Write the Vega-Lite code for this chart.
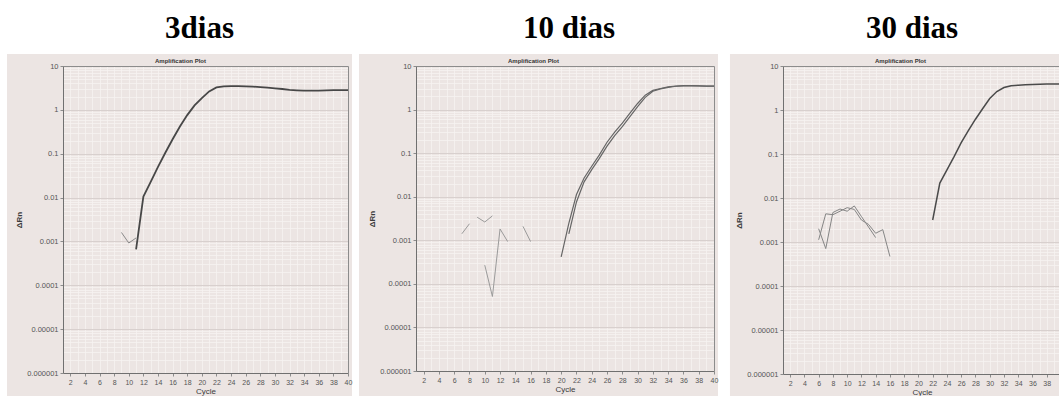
{
  "$schema": "https://vega.github.io/schema/vega-lite/v6.json",
  "background": "#ffffff",
  "padding": {"left": 7, "top": 12, "right": 0, "bottom": 0},
  "config": {
    "view": {"stroke": null, "fill": "#ece5e3"},
    "axis": {"labelFont": "Liberation Sans", "titleFont": "Liberation Sans"},
    "title": {"font": "Liberation Serif", "fontSize": 31, "fontWeight": "bold", "color": "#000000", "anchor": "middle", "frame": "group", "baseline": "alphabetic", "offset": 9}
  },
  "datasets": {
    "d3": [
      {"series": "B", "kind": "bg", "cycle": 9, "rn": 0.0016},
      {"series": "B", "kind": "bg", "cycle": 10, "rn": 0.00092},
      {"series": "B", "kind": "bg", "cycle": 11, "rn": 0.0012},
      {"series": "A", "kind": "amp", "cycle": 11, "rn": 0.00066},
      {"series": "A", "kind": "amp", "cycle": 12, "rn": 0.0105},
      {"series": "A", "kind": "amp", "cycle": 13, "rn": 0.0229},
      {"series": "A", "kind": "amp", "cycle": 14, "rn": 0.0501},
      {"series": "A", "kind": "amp", "cycle": 15, "rn": 0.105},
      {"series": "A", "kind": "amp", "cycle": 16, "rn": 0.214},
      {"series": "A", "kind": "amp", "cycle": 17, "rn": 0.417},
      {"series": "A", "kind": "amp", "cycle": 18, "rn": 0.759},
      {"series": "A", "kind": "amp", "cycle": 19, "rn": 1.26},
      {"series": "A", "kind": "amp", "cycle": 20, "rn": 1.86},
      {"series": "A", "kind": "amp", "cycle": 21, "rn": 2.63},
      {"series": "A", "kind": "amp", "cycle": 22, "rn": 3.24},
      {"series": "A", "kind": "amp", "cycle": 23, "rn": 3.43},
      {"series": "A", "kind": "amp", "cycle": 24, "rn": 3.47},
      {"series": "A", "kind": "amp", "cycle": 25, "rn": 3.47},
      {"series": "A", "kind": "amp", "cycle": 26, "rn": 3.43},
      {"series": "A", "kind": "amp", "cycle": 27, "rn": 3.39},
      {"series": "A", "kind": "amp", "cycle": 28, "rn": 3.31},
      {"series": "A", "kind": "amp", "cycle": 29, "rn": 3.2},
      {"series": "A", "kind": "amp", "cycle": 30, "rn": 3.09},
      {"series": "A", "kind": "amp", "cycle": 31, "rn": 2.99},
      {"series": "A", "kind": "amp", "cycle": 32, "rn": 2.85},
      {"series": "A", "kind": "amp", "cycle": 33, "rn": 2.79},
      {"series": "A", "kind": "amp", "cycle": 34, "rn": 2.75},
      {"series": "A", "kind": "amp", "cycle": 35, "rn": 2.75},
      {"series": "A", "kind": "amp", "cycle": 36, "rn": 2.75},
      {"series": "A", "kind": "amp", "cycle": 37, "rn": 2.79},
      {"series": "A", "kind": "amp", "cycle": 38, "rn": 2.82},
      {"series": "A", "kind": "amp", "cycle": 39, "rn": 2.82},
      {"series": "A", "kind": "amp", "cycle": 40, "rn": 2.82}
    ],
    "d10": [
      {"series": "N1", "kind": "bg", "cycle": 7, "rn": 0.00141},
      {"series": "N1", "kind": "bg", "cycle": 8, "rn": 0.0024},
      {"series": "N2", "kind": "bg", "cycle": 9, "rn": 0.00339},
      {"series": "N2", "kind": "bg", "cycle": 10, "rn": 0.00263},
      {"series": "N2", "kind": "bg", "cycle": 11, "rn": 0.00363},
      {"series": "N3", "kind": "bg", "cycle": 10, "rn": 0.000269},
      {"series": "N3", "kind": "bg", "cycle": 11, "rn": 0.0000513},
      {"series": "N3", "kind": "bg", "cycle": 12, "rn": 0.00182},
      {"series": "N3", "kind": "bg", "cycle": 13, "rn": 0.000933},
      {"series": "N4", "kind": "bg", "cycle": 15, "rn": 0.00209},
      {"series": "N4", "kind": "bg", "cycle": 16, "rn": 0.000933},
      {"series": "A", "kind": "amp", "cycle": 20, "rn": 0.000417},
      {"series": "A", "kind": "amp", "cycle": 21, "rn": 0.00245},
      {"series": "A", "kind": "amp", "cycle": 22, "rn": 0.0112},
      {"series": "A", "kind": "amp", "cycle": 23, "rn": 0.0269},
      {"series": "A", "kind": "amp", "cycle": 24, "rn": 0.0501},
      {"series": "A", "kind": "amp", "cycle": 25, "rn": 0.0912},
      {"series": "A", "kind": "amp", "cycle": 26, "rn": 0.178},
      {"series": "A", "kind": "amp", "cycle": 27, "rn": 0.302},
      {"series": "A", "kind": "amp", "cycle": 28, "rn": 0.49},
      {"series": "A", "kind": "amp", "cycle": 29, "rn": 0.832},
      {"series": "A", "kind": "amp", "cycle": 30, "rn": 1.38},
      {"series": "A", "kind": "amp", "cycle": 31, "rn": 2.14},
      {"series": "A", "kind": "amp", "cycle": 32, "rn": 2.75},
      {"series": "A", "kind": "amp", "cycle": 33, "rn": 3.05},
      {"series": "A", "kind": "amp", "cycle": 34, "rn": 3.31},
      {"series": "A", "kind": "amp", "cycle": 35, "rn": 3.47},
      {"series": "A", "kind": "amp", "cycle": 36, "rn": 3.55},
      {"series": "A", "kind": "amp", "cycle": 37, "rn": 3.55},
      {"series": "A", "kind": "amp", "cycle": 38, "rn": 3.51},
      {"series": "A", "kind": "amp", "cycle": 39, "rn": 3.47},
      {"series": "A", "kind": "amp", "cycle": 40, "rn": 3.47},
      {"series": "B", "kind": "amp", "cycle": 21, "rn": 0.00141},
      {"series": "B", "kind": "amp", "cycle": 22, "rn": 0.00759},
      {"series": "B", "kind": "amp", "cycle": 23, "rn": 0.0219},
      {"series": "B", "kind": "amp", "cycle": 24, "rn": 0.0417},
      {"series": "B", "kind": "amp", "cycle": 25, "rn": 0.0759},
      {"series": "B", "kind": "amp", "cycle": 26, "rn": 0.145},
      {"series": "B", "kind": "amp", "cycle": 27, "rn": 0.251},
      {"series": "B", "kind": "amp", "cycle": 28, "rn": 0.407},
      {"series": "B", "kind": "amp", "cycle": 29, "rn": 0.692},
      {"series": "B", "kind": "amp", "cycle": 30, "rn": 1.17},
      {"series": "B", "kind": "amp", "cycle": 31, "rn": 1.91},
      {"series": "B", "kind": "amp", "cycle": 32, "rn": 2.63},
      {"series": "B", "kind": "amp", "cycle": 33, "rn": 2.99},
      {"series": "B", "kind": "amp", "cycle": 34, "rn": 3.24},
      {"series": "B", "kind": "amp", "cycle": 35, "rn": 3.43},
      {"series": "B", "kind": "amp", "cycle": 36, "rn": 3.51},
      {"series": "B", "kind": "amp", "cycle": 37, "rn": 3.55},
      {"series": "B", "kind": "amp", "cycle": 38, "rn": 3.51},
      {"series": "B", "kind": "amp", "cycle": 39, "rn": 3.47},
      {"series": "B", "kind": "amp", "cycle": 40, "rn": 3.47}
    ],
    "d30": [
      {"series": "S1", "kind": "bg", "cycle": 6, "rn": 0.00112},
      {"series": "S1", "kind": "bg", "cycle": 7, "rn": 0.00437},
      {"series": "S1", "kind": "bg", "cycle": 8, "rn": 0.00417},
      {"series": "S1", "kind": "bg", "cycle": 9, "rn": 0.00501},
      {"series": "S1", "kind": "bg", "cycle": 10, "rn": 0.00603},
      {"series": "S1", "kind": "bg", "cycle": 11, "rn": 0.0055},
      {"series": "S1", "kind": "bg", "cycle": 12, "rn": 0.00316},
      {"series": "S1", "kind": "bg", "cycle": 13, "rn": 0.00251},
      {"series": "S1", "kind": "bg", "cycle": 14, "rn": 0.00158},
      {"series": "S1", "kind": "bg", "cycle": 15, "rn": 0.00191},
      {"series": "S1", "kind": "bg", "cycle": 16, "rn": 0.000468},
      {"series": "S2", "kind": "bg", "cycle": 6, "rn": 0.002},
      {"series": "S2", "kind": "bg", "cycle": 7, "rn": 0.000708},
      {"series": "S2", "kind": "bg", "cycle": 8, "rn": 0.00468},
      {"series": "S2", "kind": "bg", "cycle": 9, "rn": 0.00562},
      {"series": "S2", "kind": "bg", "cycle": 10, "rn": 0.00501},
      {"series": "S2", "kind": "bg", "cycle": 11, "rn": 0.00661},
      {"series": "S2", "kind": "bg", "cycle": 12, "rn": 0.0038},
      {"series": "S2", "kind": "bg", "cycle": 13, "rn": 0.00219},
      {"series": "S2", "kind": "bg", "cycle": 14, "rn": 0.00126},
      {"series": "A", "kind": "amp", "cycle": 22, "rn": 0.00316},
      {"series": "A", "kind": "amp", "cycle": 23, "rn": 0.0219},
      {"series": "A", "kind": "amp", "cycle": 24, "rn": 0.0437},
      {"series": "A", "kind": "amp", "cycle": 25, "rn": 0.0871},
      {"series": "A", "kind": "amp", "cycle": 26, "rn": 0.182},
      {"series": "A", "kind": "amp", "cycle": 27, "rn": 0.339},
      {"series": "A", "kind": "amp", "cycle": 28, "rn": 0.617},
      {"series": "A", "kind": "amp", "cycle": 29, "rn": 1.07},
      {"series": "A", "kind": "amp", "cycle": 30, "rn": 1.82},
      {"series": "A", "kind": "amp", "cycle": 31, "rn": 2.63},
      {"series": "A", "kind": "amp", "cycle": 32, "rn": 3.24},
      {"series": "A", "kind": "amp", "cycle": 33, "rn": 3.55},
      {"series": "A", "kind": "amp", "cycle": 34, "rn": 3.67},
      {"series": "A", "kind": "amp", "cycle": 35, "rn": 3.76},
      {"series": "A", "kind": "amp", "cycle": 36, "rn": 3.8},
      {"series": "A", "kind": "amp", "cycle": 37, "rn": 3.85},
      {"series": "A", "kind": "amp", "cycle": 38, "rn": 3.89},
      {"series": "A", "kind": "amp", "cycle": 39, "rn": 3.89},
      {"series": "A", "kind": "amp", "cycle": 40, "rn": 3.89}
    ]
  },
  "spacing": 11,
  "hconcat": [
    {
      "spacing": 5,
      "hconcat": [
        {
          "title": {"text": "3dias", "dx": -6},
          "width": 285,
          "height": 307,
          "resolve": {"axis": {"x": "independent", "y": "independent"}},
          "layer": [
            {
              "data": {"values": [{}]},
              "mark": {"type": "rect", "color": "#ece5e3"},
              "encoding": {
                "x": {"datum": -6.66, "type": "quantitative", "scale": {"domain": [1, 40], "nice": false, "zero": false},
                  "axis": {"orient": "top", "grid": false, "labels": false, "ticks": false, "domain": true, "domainColor": "#8c8c8c", "title": "Amplification Plot", "titleFontSize": 6, "titleFontWeight": "bold", "titleColor": "#333333", "titleX": 117, "titlePadding": 3, "zindex": 1}},
                "x2": {"datum": 40.55},
                "y": {"datum": 18.77, "type": "quantitative", "scale": {"type": "log", "domain": [0.000001, 10], "nice": false},
                  "axis": {"orient": "right", "grid": false, "labels": false, "ticks": false, "domain": true, "domainColor": "#8c8c8c", "title": null, "zindex": 1}},
                "y2": {"datum": 10}
              }
            },
            {
              "data": {"values": [{}]},
              "mark": {"type": "rect", "color": "#ece5e3"},
              "encoding": {
                "x": {"datum": -6.66, "type": "quantitative", "scale": {"domain": [1, 40], "nice": false, "zero": false}, "axis": null},
                "x2": {"datum": 1},
                "y": {"datum": 10, "type": "quantitative", "scale": {"type": "log", "domain": [0.000001, 10], "nice": false},
                  "axis": {"orient": "left", "values": [0.000001, 0.00001, 0.0001, 0.001, 0.01, 0.1, 1, 10], "grid": true, "gridColor": "#d8d0ce", "gridWidth": 1, "labels": false, "ticks": false, "domain": false, "title": null, "zindex": 0}},
                "y2": {"datum": 2.99e-7}
              }
            },
            {
              "data": {"values": [{}]},
              "mark": {"type": "rect", "color": "#ece5e3"},
              "encoding": {
                "x": {"datum": 40, "type": "quantitative", "scale": {"domain": [1, 40], "nice": false, "zero": false},
                  "axis": {"orient": "top", "values": [1,2,3,4,5,6,7,8,9,10,11,12,13,14,15,16,17,18,19,20,21,22,23,24,25,26,27,28,29,30,31,32,33,34,35,36,37,38,39,40], "grid": true, "gridColor": "#f6f2f1", "gridWidth": 0.8, "labels": false, "ticks": false, "domain": false, "title": null, "zindex": 0}},
                "x2": {"datum": 40.55},
                "y": {"datum": 10, "type": "quantitative", "scale": {"type": "log", "domain": [0.000001, 10], "nice": false},
                  "axis": {"orient": "right", "values": [2e-6,3e-6,4e-6,5e-6,6e-6,7e-6,8e-6,9e-6,2e-5,3e-5,4e-5,5e-5,6e-5,7e-5,8e-5,9e-5,2e-4,3e-4,4e-4,5e-4,6e-4,7e-4,8e-4,9e-4,0.002,0.003,0.004,0.005,0.006,0.007,0.008,0.009,0.02,0.03,0.04,0.05,0.06,0.07,0.08,0.09,0.2,0.3,0.4,0.5,0.6,0.7,0.8,0.9,2,3,4,5,6,7,8,9], "grid": true, "gridColor": "#f6f2f1", "gridWidth": 0.8, "labels": false, "ticks": false, "domain": false, "title": null, "zindex": 0}},
                "y2": {"datum": 2.99e-7}
              }
            },
            {
              "data": {"values": [{}]},
              "mark": {"type": "rect", "color": "#ece5e3"},
              "encoding": {
                "x": {"datum": 1, "type": "quantitative", "scale": {"domain": [1, 40], "nice": false, "zero": false}, "axis": null},
                "x2": {"datum": 40},
                "y": {"datum": 0.000001, "type": "quantitative", "scale": {"type": "log", "domain": [0.000001, 10], "nice": false}, "axis": null},
                "y2": {"datum": 2.99e-7}
              }
            },
            {
              "data": {"name": "d3"},
              "transform": [{"filter": "datum.kind === 'bg'"}],
              "mark": {"type": "line", "color": "#8a8a8a", "strokeWidth": 1},
              "encoding": {
                "x": {"field": "cycle", "type": "quantitative", "scale": {"domain": [1, 40], "nice": false, "zero": false}, "axis": null},
                "y": {"field": "rn", "type": "quantitative", "scale": {"type": "log", "domain": [0.000001, 10], "nice": false}, "axis": null},
                "detail": {"field": "series", "type": "nominal"}
              }
            },
            {
              "data": {"name": "d3"},
              "transform": [{"filter": "datum.kind === 'amp'"}],
              "mark": {"type": "line", "color": "#474747", "strokeWidth": 1.8},
              "encoding": {
                "x": {"field": "cycle", "type": "quantitative", "scale": {"domain": [1, 40], "nice": false, "zero": false},
                  "axis": {"orient": "bottom", "values": [2,4,6,8,10,12,14,16,18,20,22,24,26,28,30,32,34,36,38,40], "grid": false, "title": "Cycle", "titleFontSize": 8, "titleFontWeight": "normal", "titleColor": "#3a3a3a", "titlePadding": 2, "labelFontSize": 7, "labelColor": "#555555", "labelPadding": 2, "labelFlush": false, "labelOverlap": false, "tickSize": 3, "tickColor": "#8c8c8c", "domainColor": "#707070", "zindex": 1}},
                "y": {"field": "rn", "type": "quantitative", "scale": {"type": "log", "domain": [0.000001, 10], "nice": false},
                  "axis": {"orient": "left", "values": [0.000001, 0.00001, 0.0001, 0.001, 0.01, 0.1, 1, 10], "format": ".6~f", "grid": false, "title": "ΔRn", "titleFontSize": 8, "titleFontWeight": "bold", "titleColor": "#3a3a3a", "titlePadding": 3, "labelFontSize": 7.5, "labelColor": "#555555", "labelPadding": 2, "labelOverlap": false, "tickSize": 3, "tickColor": "#8c8c8c", "domainColor": "#707070", "zindex": 1}},
                "detail": {"field": "series", "type": "nominal"}
              }
            }
          ]
        },
        {
          "title": {"text": "10 dias", "dx": 4},
          "width": 298,
          "height": 305,
          "resolve": {"axis": {"x": "independent", "y": "independent"}},
          "layer": [
            {
              "data": {"values": [{}]},
              "mark": {"type": "rect", "color": "#ece5e3"},
              "encoding": {
                "x": {"datum": -6.46, "type": "quantitative", "scale": {"domain": [1, 40], "nice": false, "zero": false},
                  "axis": {"orient": "top", "grid": false, "labels": false, "ticks": false, "domain": true, "domainColor": "#8c8c8c", "title": "Amplification Plot", "titleFontSize": 6, "titleFontWeight": "bold", "titleColor": "#333333", "titleX": 117, "titlePadding": 3, "zindex": 1}},
                "x2": {"datum": 40.52},
                "y": {"datum": 18.85, "type": "quantitative", "scale": {"type": "log", "domain": [0.000001, 10], "nice": false},
                  "axis": {"orient": "right", "grid": false, "labels": false, "ticks": false, "domain": true, "domainColor": "#8c8c8c", "title": null, "zindex": 1}},
                "y2": {"datum": 10}
              }
            },
            {
              "data": {"values": [{}]},
              "mark": {"type": "rect", "color": "#ece5e3"},
              "encoding": {
                "x": {"datum": -6.46, "type": "quantitative", "scale": {"domain": [1, 40], "nice": false, "zero": false}, "axis": null},
                "x2": {"datum": 1},
                "y": {"datum": 10, "type": "quantitative", "scale": {"type": "log", "domain": [0.000001, 10], "nice": false},
                  "axis": {"orient": "left", "values": [0.000001, 0.00001, 0.0001, 0.001, 0.01, 0.1, 1, 10], "grid": true, "gridColor": "#d8d0ce", "gridWidth": 1, "labels": false, "ticks": false, "domain": false, "title": null, "zindex": 0}},
                "y2": {"datum": 2.67e-7}
              }
            },
            {
              "data": {"values": [{}]},
              "mark": {"type": "rect", "color": "#ece5e3"},
              "encoding": {
                "x": {"datum": 40, "type": "quantitative", "scale": {"domain": [1, 40], "nice": false, "zero": false},
                  "axis": {"orient": "top", "values": [1,2,3,4,5,6,7,8,9,10,11,12,13,14,15,16,17,18,19,20,21,22,23,24,25,26,27,28,29,30,31,32,33,34,35,36,37,38,39,40], "grid": true, "gridColor": "#f6f2f1", "gridWidth": 0.8, "labels": false, "ticks": false, "domain": false, "title": null, "zindex": 0}},
                "x2": {"datum": 40.52},
                "y": {"datum": 10, "type": "quantitative", "scale": {"type": "log", "domain": [0.000001, 10], "nice": false},
                  "axis": {"orient": "right", "values": [2e-6,3e-6,4e-6,5e-6,6e-6,7e-6,8e-6,9e-6,2e-5,3e-5,4e-5,5e-5,6e-5,7e-5,8e-5,9e-5,2e-4,3e-4,4e-4,5e-4,6e-4,7e-4,8e-4,9e-4,0.002,0.003,0.004,0.005,0.006,0.007,0.008,0.009,0.02,0.03,0.04,0.05,0.06,0.07,0.08,0.09,0.2,0.3,0.4,0.5,0.6,0.7,0.8,0.9,2,3,4,5,6,7,8,9], "grid": true, "gridColor": "#f6f2f1", "gridWidth": 0.8, "labels": false, "ticks": false, "domain": false, "title": null, "zindex": 0}},
                "y2": {"datum": 2.67e-7}
              }
            },
            {
              "data": {"values": [{}]},
              "mark": {"type": "rect", "color": "#ece5e3"},
              "encoding": {
                "x": {"datum": 1, "type": "quantitative", "scale": {"domain": [1, 40], "nice": false, "zero": false}, "axis": null},
                "x2": {"datum": 40},
                "y": {"datum": 0.000001, "type": "quantitative", "scale": {"type": "log", "domain": [0.000001, 10], "nice": false}, "axis": null},
                "y2": {"datum": 2.67e-7}
              }
            },
            {
              "data": {"name": "d10"},
              "transform": [{"filter": "datum.kind === 'bg'"}],
              "mark": {"type": "line", "color": "#9a9a9a", "strokeWidth": 1},
              "encoding": {
                "x": {"field": "cycle", "type": "quantitative", "scale": {"domain": [1, 40], "nice": false, "zero": false}, "axis": null},
                "y": {"field": "rn", "type": "quantitative", "scale": {"type": "log", "domain": [0.000001, 10], "nice": false}, "axis": null},
                "detail": {"field": "series", "type": "nominal"}
              }
            },
            {
              "data": {"name": "d10"},
              "transform": [{"filter": "datum.kind === 'amp'"}],
              "mark": {"type": "line", "color": "#666666", "strokeWidth": 1.2},
              "encoding": {
                "x": {"field": "cycle", "type": "quantitative", "scale": {"domain": [1, 40], "nice": false, "zero": false},
                  "axis": {"orient": "bottom", "values": [2,4,6,8,10,12,14,16,18,20,22,24,26,28,30,32,34,36,38,40], "grid": false, "title": "Cycle", "titleFontSize": 8, "titleFontWeight": "normal", "titleColor": "#3a3a3a", "titlePadding": 2, "labelFontSize": 7, "labelColor": "#555555", "labelPadding": 2, "labelFlush": false, "labelOverlap": false, "tickSize": 3, "tickColor": "#8c8c8c", "domainColor": "#707070", "zindex": 1}},
                "y": {"field": "rn", "type": "quantitative", "scale": {"type": "log", "domain": [0.000001, 10], "nice": false},
                  "axis": {"orient": "left", "values": [0.000001, 0.00001, 0.0001, 0.001, 0.01, 0.1, 1, 10], "format": ".6~f", "grid": false, "title": "ΔRn", "titleFontSize": 8, "titleFontWeight": "bold", "titleColor": "#3a3a3a", "titlePadding": 3, "labelFontSize": 7.5, "labelColor": "#555555", "labelPadding": 2, "labelOverlap": false, "tickSize": 3, "tickColor": "#8c8c8c", "domainColor": "#707070", "zindex": 1}},
                "detail": {"field": "series", "type": "nominal"}
              }
            }
          ]
        }
      ]
    },
    {
      "title": {"text": "30 dias", "dx": -10},
      "width": 278,
      "height": 308,
      "resolve": {"axis": {"x": "independent", "y": "independent"}},
      "layer": [
        {
          "data": {"values": [{}]},
          "mark": {"type": "rect", "color": "#ece5e3"},
          "encoding": {
            "x": {"datum": -6.44, "type": "quantitative", "scale": {"domain": [1, 40], "nice": false, "zero": false},
              "axis": {"orient": "top", "grid": false, "labels": false, "ticks": false, "domain": true, "domainColor": "#8c8c8c", "title": "Amplification Plot", "titleFontSize": 6, "titleFontWeight": "bold", "titleColor": "#333333", "titleX": 117, "titlePadding": 3, "zindex": 1}},
            "x2": {"datum": 40},
            "y": {"datum": 18.74, "type": "quantitative", "scale": {"type": "log", "domain": [0.000001, 10], "nice": false},
              "axis": {"orient": "right", "grid": false, "labels": false, "ticks": false, "domain": true, "domainColor": "#8c8c8c", "title": null, "zindex": 1}},
            "y2": {"datum": 10}
          }
        },
        {
          "data": {"values": [{}]},
          "mark": {"type": "rect", "color": "#ece5e3"},
          "encoding": {
            "x": {"datum": -6.44, "type": "quantitative", "scale": {"domain": [1, 40], "nice": false, "zero": false}, "axis": null},
            "x2": {"datum": 1},
            "y": {"datum": 10, "type": "quantitative", "scale": {"type": "log", "domain": [0.000001, 10], "nice": false},
              "axis": {"orient": "left", "values": [0.000001, 0.00001, 0.0001, 0.001, 0.01, 0.1, 1, 10], "grid": true, "gridColor": "#d8d0ce", "gridWidth": 1, "labels": false, "ticks": false, "domain": false, "title": null, "zindex": 0}},
            "y2": {"datum": 3.16e-7}
          }
        },
        {
          "data": {"values": [{}]},
          "mark": {"type": "rect", "color": "#ece5e3"},
          "encoding": {
            "x": {"datum": 1, "type": "quantitative", "scale": {"domain": [1, 40], "nice": false, "zero": false},
              "axis": {"orient": "top", "values": [1,2,3,4,5,6,7,8,9,10,11,12,13,14,15,16,17,18,19,20,21,22,23,24,25,26,27,28,29,30,31,32,33,34,35,36,37,38,39,40], "grid": true, "gridColor": "#f6f2f1", "gridWidth": 0.8, "labels": false, "ticks": false, "domain": false, "title": null, "zindex": 0}},
            "x2": {"datum": 40},
            "y": {"datum": 0.000001, "type": "quantitative", "scale": {"type": "log", "domain": [0.000001, 10], "nice": false},
              "axis": {"orient": "right", "values": [2e-6,3e-6,4e-6,5e-6,6e-6,7e-6,8e-6,9e-6,2e-5,3e-5,4e-5,5e-5,6e-5,7e-5,8e-5,9e-5,2e-4,3e-4,4e-4,5e-4,6e-4,7e-4,8e-4,9e-4,0.002,0.003,0.004,0.005,0.006,0.007,0.008,0.009,0.02,0.03,0.04,0.05,0.06,0.07,0.08,0.09,0.2,0.3,0.4,0.5,0.6,0.7,0.8,0.9,2,3,4,5,6,7,8,9], "grid": true, "gridColor": "#f6f2f1", "gridWidth": 0.8, "labels": false, "ticks": false, "domain": false, "title": null, "zindex": 0}},
            "y2": {"datum": 3.16e-7}
          }
        },
        {
          "data": {"name": "d30"},
          "transform": [{"filter": "datum.kind === 'bg'"}],
          "mark": {"type": "line", "color": "#858585", "strokeWidth": 1},
          "encoding": {
            "x": {"field": "cycle", "type": "quantitative", "scale": {"domain": [1, 40], "nice": false, "zero": false}, "axis": null},
            "y": {"field": "rn", "type": "quantitative", "scale": {"type": "log", "domain": [0.000001, 10], "nice": false}, "axis": null},
            "detail": {"field": "series", "type": "nominal"}
          }
        },
        {
          "data": {"name": "d30"},
          "transform": [{"filter": "datum.kind === 'amp'"}],
          "mark": {"type": "line", "color": "#4a4a4a", "strokeWidth": 1.5},
          "encoding": {
            "x": {"field": "cycle", "type": "quantitative", "scale": {"domain": [1, 40], "nice": false, "zero": false},
              "axis": {"orient": "bottom", "values": [2,4,6,8,10,12,14,16,18,20,22,24,26,28,30,32,34,36,38], "grid": false, "title": "Cycle", "titleFontSize": 8, "titleFontWeight": "normal", "titleColor": "#3a3a3a", "titlePadding": 2, "labelFontSize": 7, "labelColor": "#555555", "labelPadding": 2, "labelFlush": false, "labelOverlap": false, "tickSize": 3, "tickColor": "#8c8c8c", "domainColor": "#707070", "zindex": 1}},
            "y": {"field": "rn", "type": "quantitative", "scale": {"type": "log", "domain": [0.000001, 10], "nice": false},
              "axis": {"orient": "left", "values": [0.000001, 0.00001, 0.0001, 0.001, 0.01, 0.1, 1, 10], "format": ".6~f", "grid": false, "title": "ΔRn", "titleFontSize": 8, "titleFontWeight": "bold", "titleColor": "#3a3a3a", "titlePadding": 3, "labelFontSize": 7.5, "labelColor": "#555555", "labelPadding": 2, "labelOverlap": false, "tickSize": 3, "tickColor": "#8c8c8c", "domainColor": "#707070", "zindex": 1}},
            "detail": {"field": "series", "type": "nominal"}
          }
        }
      ]
    }
  ]
}
